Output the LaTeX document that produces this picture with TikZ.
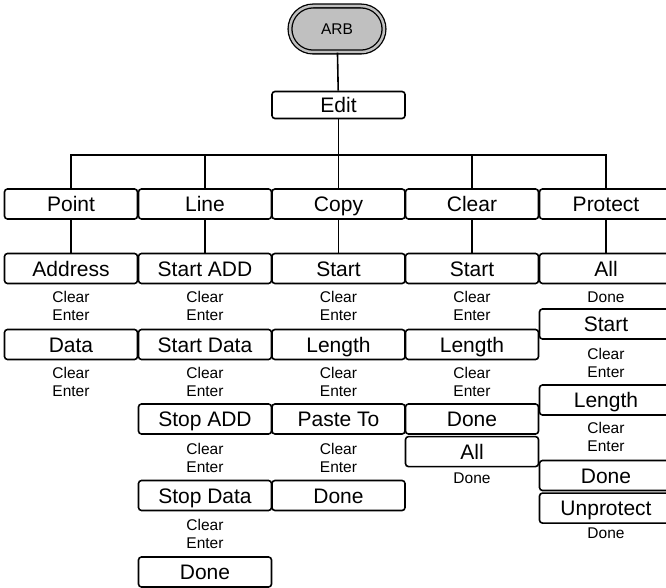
\documentclass[tikz,border=0pt]{standalone}
\usepackage{fontspec}
\setmainfont{Liberation Sans}
\usetikzlibrary{positioning}
\definecolor{arbgray}{RGB}{192,192,192}

\begin{document}
\begin{tikzpicture}[
  x=1pt, y=-1pt,
  line width=1.6pt,
  box/.style={draw, rounded corners=3pt, minimum width=133pt,
              minimum height=30pt, inner sep=0pt,
              text height=15.4pt, text depth=0pt,
              font=\fontsize{21}{24}\selectfont},
  root/.style={draw, double=arbgray, double distance=2.5pt, fill=arbgray,
               line width=1.3pt, rounded corners=23pt, minimum width=94pt,
               minimum height=46pt, inner sep=0pt,
               text height=11.2pt, text depth=0pt,
               font=\fontsize{15.5}{18}\selectfont},
  keys/.style={align=center, inner sep=0pt,
               font=\fontsize{15.5}{18}\selectfont}
]
  \clip (0,0) rectangle (666,588);

  \node[root] (ARB) at (337,29) {ARB};
  \node[box, minimum height=27pt] (Edit) at (338.5,105) {Edit};
  \coordinate (bus) at (338.5,155);

  % top menu
  \node[box] (Point)   at (71,204)    {Point};
  \node[box] (Line)    at (205,204)   {Line};
  \node[box] (Copy)    at (338.5,204) {Copy};
  \node[box] (Clear)   at (472,204)   {Clear};
  \node[box] (Protect) at (606,204)   {Protect};

  % Point
  \node[box]  (ptAddress)  at (71,268.5) {Address};
  \node[keys] (ptAddrKeys) at (71,306)   {Clear\\Enter};
  \node[box]  (ptData)     at (71,344.5) {Data};
  \node[keys] (ptDataKeys) at (71,382)   {Clear\\Enter};

  % Line
  \node[box]  (lnStartAdd)   at (205,268.5) {Start ADD};
  \node[keys] (lnStartAddK)  at (205,306)   {Clear\\Enter};
  \node[box]  (lnStartData)  at (205,344.5) {Start Data};
  \node[keys] (lnStartDataK) at (205,382)   {Clear\\Enter};
  \node[box]  (lnStopAdd)    at (205,419)   {Stop ADD};
  \node[keys] (lnStopAddK)   at (205,458)   {Clear\\Enter};
  \node[box]  (lnStopData)   at (205,495.5) {Stop Data};
  \node[keys] (lnStopDataK)  at (205,533.5) {Clear\\Enter};
  \node[box]  (lnDone)       at (205,572)   {Done};

  % Copy
  \node[box]  (cpStart)   at (338.5,268.5) {Start};
  \node[keys] (cpStartK)  at (338.5,306)   {Clear\\Enter};
  \node[box]  (cpLength)  at (338.5,344.5) {Length};
  \node[keys] (cpLengthK) at (338.5,382)   {Clear\\Enter};
  \node[box]  (cpPaste)   at (338.5,419)   {Paste To};
  \node[keys] (cpPasteK)  at (338.5,458)   {Clear\\Enter};
  \node[box]  (cpDone)    at (338.5,495.5) {Done};

  % Clear
  \node[box]  (clStart)   at (472,268.5) {Start};
  \node[keys] (clStartK)  at (472,306)   {Clear\\Enter};
  \node[box]  (clLength)  at (472,344.5) {Length};
  \node[keys] (clLengthK) at (472,382)   {Clear\\Enter};
  \node[box]  (clDone)    at (472,419)   {Done};
  \node[box, below=1pt of clDone] (clAll) {All};
  \node[keys] (clAllK)    at (472,478)   {Done};

  % Protect
  \node[box]  (prAll)     at (606,268.5) {All};
  \node[keys] (prAllK)    at (606,297)   {Done};
  \node[box]  (prStart)   at (606,324)   {Start};
  \node[keys] (prStartK)  at (606,362.5) {Clear\\Enter};
  \node[box]  (prLength)  at (606,400)   {Length};
  \node[keys] (prLengthK) at (606,437)   {Clear\\Enter};
  \node[box]  (prDone)    at (606,475.5) {Done};
  \node[box, below=1pt of prDone] (prUnprotect) {Unprotect};
  \node[keys] (prUnprotK) at (606,533)   {Done};

  \draw (ARB) -- (Edit);
  \draw (Edit) -- (bus) -| (Point);
  \draw (bus) -| (Line);
  \draw (bus) -- (Copy);
  \draw (bus) -| (Clear);
  \draw (bus) -| (Protect);

  \draw (Point)   -- (ptAddress);
  \draw (Line)    -- (lnStartAdd);
  \draw (Copy)    -- (cpStart);
  \draw (Clear)   -- (clStart);
  \draw (Protect) -- (prAll);
\end{tikzpicture}
\end{document}
